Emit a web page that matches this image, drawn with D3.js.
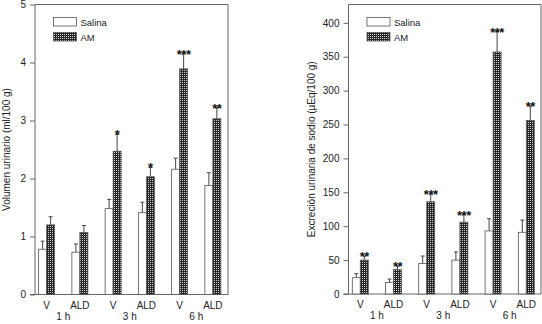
<!DOCTYPE html>
<html>
<head>
<meta charset="utf-8">
<script src="https://cdn.jsdelivr.net/npm/d3@7"></script>
<style>
  body { margin: 0; background: #fff; }
  svg { display: block; font-family: "Liberation Sans", Arial, sans-serif; }
</style>
</head>
<body>
<svg id="chart" width="542" height="324"></svg>
<script>
// categories
const conds = ["V", "ALD", "V", "ALD", "V", "ALD"];
const hours = ["1 h", "3 h", "6 h"];
const seriesNames = ["Salina", "AM"];

// left panel: urine volume
const volSalina = [0.78, 0.73, 1.48, 1.41, 2.16, 1.88];
const volSalinaErr = [0.14, 0.14, 0.16, 0.18, 0.19, 0.22];
const volAM = [1.20, 1.07, 2.47, 2.03, 3.89, 3.03];
const volAMErr = [0.14, 0.12, 0.29, 0.16, 0.26, 0.19];
const volStars = ["", "", "*", "*", "***", "**"];
const volTicks = [0, 1, 2, 3, 4, 5];

// right panel: sodium excretion
const naSalina = [24, 17, 45, 50, 93, 91];
const naSalinaErr = [6, 5, 11, 12, 18, 18];
const naAM = [50, 36, 136, 106, 357, 256];
const naAMErr = [6, 5, 11, 11, 30, 21];
const naStars = ["**", "**", "***", "***", "***", "**"];
const naTicks = [0, 50, 100, 150, 200, 250, 300, 350, 400];

const svg = d3.select("#chart");
const axisCol = "#666";

// crosshatch fill for AM bars
const defs = svg.append("defs");
const pat = defs.append("pattern")
    .attr("id", "hatch")
    .attr("patternUnits", "userSpaceOnUse")
    .attr("width", 2).attr("height", 2);
pat.append("rect").attr("width", 2).attr("height", 2).attr("fill", "#262626");
pat.append("rect").attr("x", 0).attr("y", 0).attr("width", 1).attr("height", 1).attr("fill", "#d0d0d0");

function drawPanel(cfg) {
    const y = d3.scaleLinear().domain(cfg.yDomain).range([cfg.bottom, cfg.top]);
    const x = d3.scaleBand().domain(d3.range(conds.length)).range(cfg.xRange);
    const sub = d3.scaleBand().domain(seriesNames).range([-8, 8]);
    const g = svg.append("g");

    // frame (left, top, right) + bottom axis
    g.append("path")
        .attr("d", `M${cfg.left},${cfg.bottom}V${cfg.top}H${cfg.right}V${cfg.bottom}`)
        .attr("fill", "none").attr("stroke", axisCol);

    const yAxis = d3.axisLeft(y).tickValues(cfg.ticks).tickFormat(d3.format("d"))
        .tickSize(5).tickPadding(4);
    const ya = g.append("g").attr("transform", `translate(${cfg.left},0)`).call(yAxis);
    ya.select(".domain").remove();
    ya.selectAll("line").attr("stroke", axisCol);
    ya.selectAll("text").attr("font-size", 10).attr("fill", "#222").attr("font-family", "Liberation Sans, Arial, sans-serif");

    g.append("line")
        .attr("x1", cfg.left - 5).attr("x2", cfg.right)
        .attr("y1", cfg.bottom).attr("y2", cfg.bottom)
        .attr("stroke", axisCol);

    const series = [
        {name: "Salina", vals: cfg.salina, errs: cfg.salinaErr, fill: "#fff"},
        {name: "AM", vals: cfg.am, errs: cfg.amErr, fill: "url(#hatch)"}
    ];

    series.forEach(s => {
        const cx = i => x(i) + x.bandwidth() / 2 + sub(s.name);
        // error bars (upper only)
        g.selectAll(null).data(s.vals).join("path")
            .attr("d", (v, i) => {
                const m = cx(i) + sub.bandwidth() / 2;
                const t = y(v + s.errs[i]);
                return `M${m},${y(v)}V${t}M${m - 2},${t}H${m + 2}`;
            })
            .attr("stroke", "#444").attr("fill", "none");
        g.selectAll(null).data(s.vals).join("rect")
            .attr("x", (v, i) => cx(i))
            .attr("y", v => y(v))
            .attr("width", sub.bandwidth())
            .attr("height", v => cfg.bottom - y(v))
            .attr("fill", s.fill)
            .attr("stroke", "#555").attr("stroke-width", 0.8);
    });

    // significance stars
    g.selectAll(null).data(cfg.stars).join("text")
        .attr("x", (d, i) => x(i) + x.bandwidth() / 2 + sub("AM") + sub.bandwidth() / 2)
        .attr("y", (d, i) => y(cfg.am[i] + cfg.amErr[i]) + 5)
        .attr("text-anchor", "middle")
        .attr("font-size", 13).attr("font-weight", "bold").attr("fill", "#111")
        .attr("letter-spacing", -0.5)
        .text(d => d);

    // category labels
    g.selectAll(null).data(conds).join("text")
        .attr("x", (d, i) => x(i) + x.bandwidth() / 2)
        .attr("y", cfg.bottom + 14)
        .attr("text-anchor", "middle").attr("font-size", 10).attr("fill", "#222")
        .text(d => d);
    g.selectAll(null).data(hours).join("text")
        .attr("x", (d, i) => x(2 * i + 1))
        .attr("y", cfg.bottom + 25)
        .attr("text-anchor", "middle").attr("font-size", 10).attr("fill", "#222")
        .text(d => d);

    // y label
    g.append("text")
        .attr("transform", `translate(${cfg.labelX},${(cfg.top + cfg.bottom) / 2}) rotate(-90)`)
        .attr("text-anchor", "middle").attr("font-size", 10).attr("fill", "#222")
        .text(cfg.label);

    // legend
    series.forEach((s, i) => {
        const ly = cfg.top + 13 + i * 15;
        g.append("rect")
            .attr("x", cfg.legendX).attr("y", ly)
            .attr("width", 23).attr("height", 8.5)
            .attr("fill", s.fill).attr("stroke", "#555").attr("stroke-width", 0.8);
        g.append("text")
            .attr("x", cfg.legendX + 27).attr("y", ly + 8)
            .attr("font-size", 9.5).attr("fill", "#222")
            .text(s.name);
    });
}

drawPanel({
    left: 35, right: 228, top: 4.5, bottom: 294.5,
    xRange: [30, 229.5], yDomain: [0, 5], ticks: volTicks,
    salina: volSalina, salinaErr: volSalinaErr, am: volAM, amErr: volAMErr,
    stars: volStars, label: "Volumen urinario (ml/100 g)", labelX: 10, legendX: 53.5
});

drawPanel({
    left: 348.5, right: 541, top: 4.5, bottom: 294,
    xRange: [343.7, 542.9], yDomain: [0, 427], ticks: naTicks,
    salina: naSalina, salinaErr: naSalinaErr, am: naAM, amErr: naAMErr,
    stars: naStars, label: "Excreción urinaria de sodio (µEq/100 g)", labelX: 315, legendX: 367
});
</script>
</body>
</html>
